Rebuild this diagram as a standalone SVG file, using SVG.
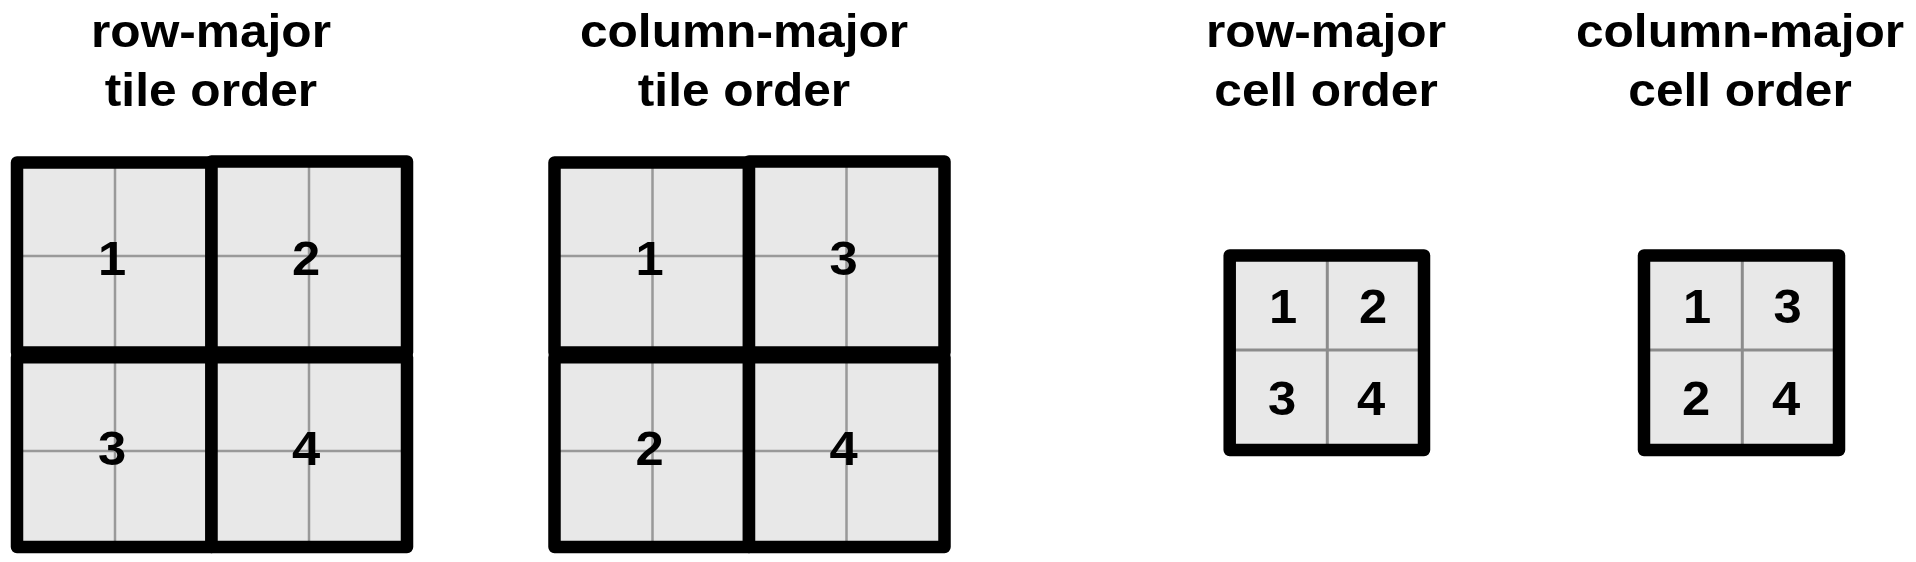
<svg xmlns="http://www.w3.org/2000/svg" width="1916" height="562" viewBox="0 0 1916 562">
<style>
.bg{fill:#ffffff}
.fill{fill:#e8e8e8;stroke:none}
.frame{fill:none;stroke:#000;stroke-width:12.5;stroke-linejoin:round}
.grid{stroke:#999;stroke-width:2.5;fill:none}
.grid2{stroke:#8c8c8c;stroke-width:3;fill:none}
.title{font-family:"Liberation Sans",Arial,Helvetica,sans-serif;font-weight:bold;font-size:47px;fill:#000;text-anchor:middle}
.num{font-family:"Liberation Sans",Arial,Helvetica,sans-serif;font-weight:bold;font-size:48px;fill:#000;text-anchor:middle}
</style>
<rect class="bg" x="0" y="0" width="1916" height="562"/>

<g id="titles">
  <text class="title" transform="matrix(1.056 0 0 1 211 0)"><tspan x="0" y="47">row-major</tspan><tspan x="0" y="106">tile order</tspan></text>
  <text class="title" transform="matrix(1.056 0 0 1 744 0)"><tspan x="0" y="47">column-major</tspan><tspan x="0" y="106">tile order</tspan></text>
  <text class="title" transform="matrix(1.056 0 0 1 1326 0)"><tspan x="0" y="47">row-major</tspan><tspan x="0" y="106">cell order</tspan></text>
  <text class="title" transform="matrix(1.056 0 0 1 1740 0)"><tspan x="0" y="47">column-major</tspan><tspan x="0" y="106">cell order</tspan></text>
</g>

<!-- Group 1: row-major tile order -->
<g id="row-major-tiles">
  <g id="rt1">
    <rect class="fill" x="17" y="162.5" width="194.5" height="190"/>
    <line class="grid" x1="115" y1="162.5" x2="115" y2="352.5"/>
    <line class="grid" x1="17" y1="256" x2="211.5" y2="256"/>
    <rect class="frame" x="17" y="162.5" width="194.5" height="190"/>
  </g>
  <g id="rt2">
    <rect class="fill" x="211.5" y="161.5" width="195.5" height="191"/>
    <line class="grid" x1="309" y1="161.5" x2="309" y2="352.5"/>
    <line class="grid" x1="211.5" y1="256" x2="407" y2="256"/>
    <rect class="frame" x="211.5" y="161.5" width="195.5" height="191"/>
  </g>
  <g id="rt3">
    <rect class="fill" x="17" y="357.3" width="194.5" height="189.7"/>
    <line class="grid" x1="115" y1="357.3" x2="115" y2="547"/>
    <line class="grid" x1="17" y1="451" x2="211.5" y2="451"/>
    <rect class="frame" x="17" y="357.3" width="194.5" height="189.7"/>
  </g>
  <g id="rt4">
    <rect class="fill" x="211.5" y="357.3" width="195.5" height="189.7"/>
    <line class="grid" x1="309" y1="357.3" x2="309" y2="547"/>
    <line class="grid" x1="211.5" y1="451" x2="407" y2="451"/>
    <rect class="frame" x="211.5" y="357.3" width="195.5" height="189.7"/>
  </g>
  <text class="num" transform="matrix(1.056 0 0 1 112 275)">1</text>
  <text class="num" transform="matrix(1.056 0 0 1 306 275)">2</text>
  <text class="num" transform="matrix(1.056 0 0 1 112 465)">3</text>
  <text class="num" transform="matrix(1.056 0 0 1 306 465)">4</text>
</g>

<!-- Group 2: column-major tile order -->
<g id="col-major-tiles" transform="translate(537.5 0)">
  <g id="ct1">
    <rect class="fill" x="17" y="162.5" width="194.5" height="190"/>
    <line class="grid" x1="115" y1="162.5" x2="115" y2="352.5"/>
    <line class="grid" x1="17" y1="256" x2="211.5" y2="256"/>
    <rect class="frame" x="17" y="162.5" width="194.5" height="190"/>
  </g>
  <g id="ct2">
    <rect class="fill" x="211.5" y="161.5" width="195.5" height="191"/>
    <line class="grid" x1="309" y1="161.5" x2="309" y2="352.5"/>
    <line class="grid" x1="211.5" y1="256" x2="407" y2="256"/>
    <rect class="frame" x="211.5" y="161.5" width="195.5" height="191"/>
  </g>
  <g id="ct3">
    <rect class="fill" x="17" y="357.3" width="194.5" height="189.7"/>
    <line class="grid" x1="115" y1="357.3" x2="115" y2="547"/>
    <line class="grid" x1="17" y1="451" x2="211.5" y2="451"/>
    <rect class="frame" x="17" y="357.3" width="194.5" height="189.7"/>
  </g>
  <g id="ct4">
    <rect class="fill" x="211.5" y="357.3" width="195.5" height="189.7"/>
    <line class="grid" x1="309" y1="357.3" x2="309" y2="547"/>
    <line class="grid" x1="211.5" y1="451" x2="407" y2="451"/>
    <rect class="frame" x="211.5" y="357.3" width="195.5" height="189.7"/>
  </g>
  <text class="num" transform="matrix(1.056 0 0 1 112 275)">1</text>
  <text class="num" transform="matrix(1.056 0 0 1 306 275)">3</text>
  <text class="num" transform="matrix(1.056 0 0 1 112 465)">2</text>
  <text class="num" transform="matrix(1.056 0 0 1 306 465)">4</text>
</g>

<!-- Group 3: row-major cell order -->
<g id="row-major-cells">
  <rect class="fill" x="1229.7" y="255.5" width="194.3" height="194.5"/>
  <line class="grid2" x1="1327.3" y1="255.5" x2="1327.3" y2="450"/>
  <line class="grid2" x1="1229.7" y1="350" x2="1424" y2="350"/>
  <rect class="frame" x="1229.7" y="255.5" width="194.3" height="194.5"/>
  <text class="num" transform="matrix(1.056 0 0 1 1283 322.5)">1</text>
  <text class="num" transform="matrix(1.056 0 0 1 1373 322.5)">2</text>
  <text class="num" transform="matrix(1.056 0 0 1 1282 415)">3</text>
  <text class="num" transform="matrix(1.056 0 0 1 1371 415)">4</text>
</g>

<!-- Group 4: column-major cell order -->
<g id="col-major-cells">
  <rect class="fill" x="1644" y="255.5" width="195" height="194.5"/>
  <line class="grid2" x1="1742.3" y1="255.5" x2="1742.3" y2="450"/>
  <line class="grid2" x1="1644" y1="350" x2="1839" y2="350"/>
  <rect class="frame" x="1644" y="255.5" width="195" height="194.5"/>
  <text class="num" transform="matrix(1.056 0 0 1 1697 322.5)">1</text>
  <text class="num" transform="matrix(1.056 0 0 1 1787.5 322.5)">3</text>
  <text class="num" transform="matrix(1.056 0 0 1 1696 415)">2</text>
  <text class="num" transform="matrix(1.056 0 0 1 1786 415)">4</text>
</g>

<g id="connectors"></g>
</svg>
